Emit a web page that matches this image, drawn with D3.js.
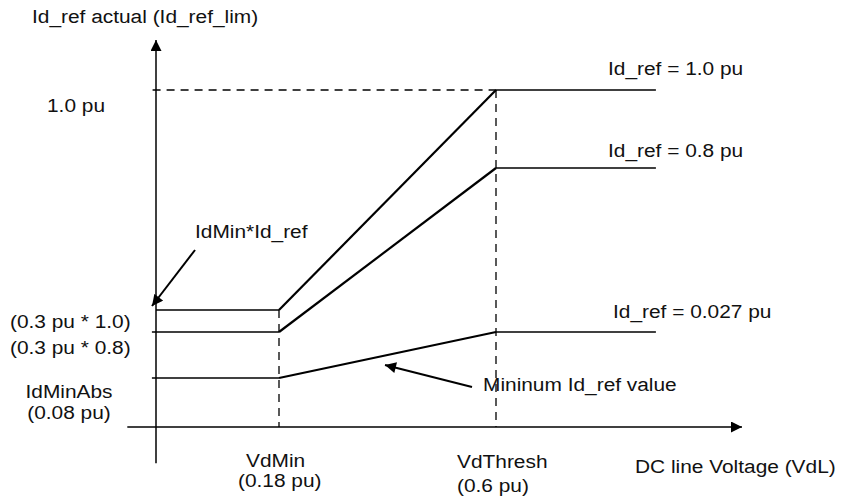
<!DOCTYPE html>
<html><head><meta charset="utf-8">
<script src="https://cdn.jsdelivr.net/npm/d3@7"></script>
<style>
html,body{margin:0;padding:0;background:#fff;}
svg{display:block;}
text{font-family:"Liberation Sans",Arial,Helvetica,sans-serif;font-size:18px;fill:#111;}
</style></head>
<body>
<svg id="c" width="844" height="496"></svg>
<script>
// ---- data (per-unit values) ----
const vdBreaks = [0, 0.18, 0.6, 0.86];          // y-axis, VdMin, VdThresh, end of plateau
const curveIdRef10 = [0.3, 0.3, 1.0, 1.0];      // Id_ref = 1.0 pu
const curveIdRef08 = [0.24, 0.24, 0.8, 0.8];    // Id_ref = 0.8 pu
const curveIdRefMin = [0.08, 0.08, 0.24, 0.24]; // minimum Id_ref (drawn level)
const curveLabels = ["Id_ref = 1.0 pu", "Id_ref = 0.8 pu", "Id_ref = 0.027 pu"];
const xTickValues = [0.18, 0.6];
const xTickLabels = [["VdMin", "(0.18 pu)"], ["VdThresh", "(0.6 pu)"]];
const yLabelValues = [1.0, 0.3, 0.24, 0.08];
const yLabels = [["1.0 pu"], ["(0.3 pu * 1.0)"], ["(0.3 pu * 0.8)"], ["IdMinAbs", "(0.08 pu)"]];

// ---- scales (diagram is not drawn to scale: piecewise linear) ----
const x = d3.scaleLinear().domain([0, 0.18, 0.6, 1.0]).range([156, 279, 496, 742]);
const y = d3.scaleLinear().domain([0, 0.08, 0.24, 0.3, 0.8, 1.0]).range([427, 378, 332, 310, 168, 90]);

const svg = d3.select("#c");
const defs = svg.append("defs");
defs.append("marker").attr("id", "ah").attr("viewBox", "0 0 10 10")
  .attr("refX", 10).attr("refY", 5).attr("markerWidth", 13).attr("markerHeight", 11)
  .attr("markerUnits", "userSpaceOnUse").attr("orient", "auto")
  .append("path").attr("d", "M0,0L10,5L0,10Z").attr("fill", "#000");

const line = d3.line().x(d => x(d[0])).y(d => y(d[1]));
const stroke = "#000";

// axes
svg.append("path").attr("d", line([[0, -0.059], [0, 1.128]]))
  .attr("stroke", stroke).attr("stroke-width", 1.5).attr("fill", "none").attr("marker-end", "url(#ah)");
svg.append("path").attr("d", line([[-0.042, 0], [1.0, 0]]))
  .attr("stroke", stroke).attr("stroke-width", 1.5).attr("fill", "none").attr("marker-end", "url(#ah)");

// dashed guides
const dash = "8,6";
svg.append("path").attr("d", line([[-0.005, 1.0], [vdBreaks[2], 1.0]]))
  .attr("stroke", stroke).attr("stroke-width", 1.3).attr("stroke-dasharray", dash).attr("fill", "none");
svg.append("path").attr("d", line([[vdBreaks[1], 0.3], [vdBreaks[1], 0]]))
  .attr("stroke", stroke).attr("stroke-width", 1.3).attr("stroke-dasharray", dash).attr("fill", "none");
svg.append("path").attr("d", line([[vdBreaks[2], 1.0], [vdBreaks[2], 0]]))
  .attr("stroke", stroke).attr("stroke-width", 1.3).attr("stroke-dasharray", dash).attr("fill", "none");

// curves
[curveIdRef10, curveIdRef08, curveIdRefMin].forEach((c, ci) => {
  const pts = vdBreaks.map((v, i) => [v, c[i]]);
  pts[0] = [ci === 0 ? 0 : -0.006, c[0]];
  for (let i = 0; i < 3; i++) {
    svg.append("path").attr("d", line([pts[i], pts[i + 1]]))
      .attr("stroke", stroke).attr("stroke-width", i === 1 ? 2.2 : 1.4).attr("fill", "none");
  }
});

// text helper (original lettering is horizontally wide)
function label(tx, ty, s, anchor) {
  const g = svg.append("g").attr("transform", `translate(${tx},${ty}) scale(1.16,1)`);
  g.append("text").attr("text-anchor", anchor || "start").text(s);
}

label(32, 23, "Id_ref actual (Id_ref_lim)");
label(635, 473, "DC line Voltage (VdL)");

// curve labels
label(608, y(curveIdRef10[3]) - 15, curveLabels[0]);
label(608, y(curveIdRef08[3]) - 11, curveLabels[1]);
label(613, y(curveIdRefMin[3]) - 14, curveLabels[2]);

// x tick labels
label(x(xTickValues[0]) - 33, 467, xTickLabels[0][0]);
label(x(xTickValues[0]) - 41, 487, xTickLabels[0][1]);
label(x(xTickValues[1]) - 39, 468, xTickLabels[1][0]);
label(x(xTickValues[1]) - 39, 492, xTickLabels[1][1]);

// y labels
label(47, y(yLabelValues[0]) + 22, yLabels[0][0]);
label(10, y(yLabelValues[1]) + 18, yLabels[1][0]);
label(10, y(yLabelValues[2]) + 22, yLabels[2][0]);
label(69, y(yLabelValues[3]) + 20, yLabels[3][0], "middle");
label(69, y(yLabelValues[3]) + 41, yLabels[3][1], "middle");

// annotation arrows
svg.append("line").attr("x1", x(0) + 39).attr("y1", y(0.3) - 60)
  .attr("x2", x(0) - 4).attr("y2", y(0.3) - 4)
  .attr("stroke", stroke).attr("stroke-width", 2).attr("marker-end", "url(#ah)");
label(195, y(0.3) - 72, "IdMin*Id_ref");

svg.append("line").attr("x1", 472).attr("y1", 387).attr("x2", 385).attr("y2", 365)
  .attr("stroke", stroke).attr("stroke-width", 2).attr("marker-end", "url(#ah)");
label(483, 391, "Mininum Id_ref value");
</script>
</body></html>
